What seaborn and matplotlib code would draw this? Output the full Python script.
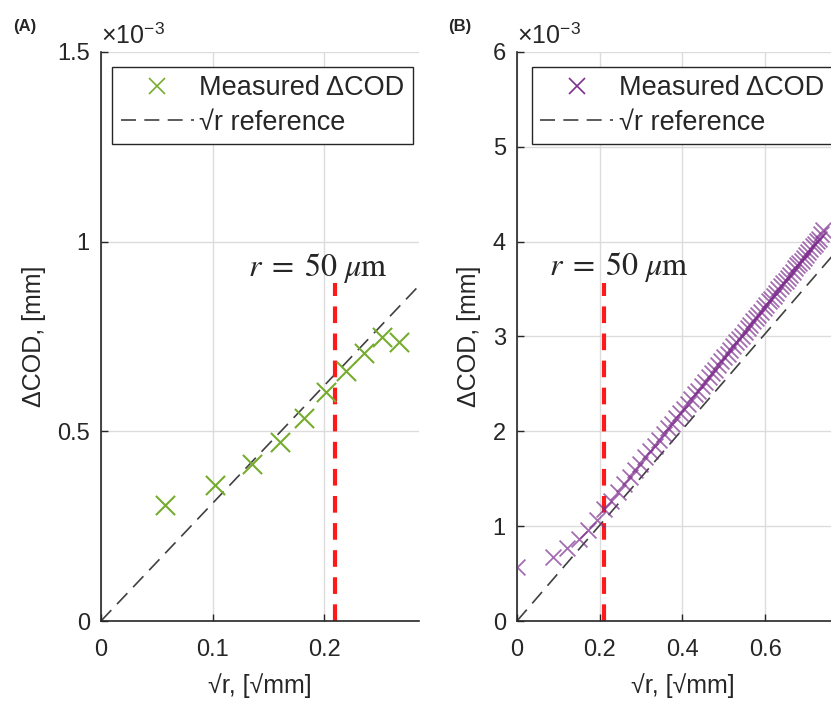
import matplotlib
matplotlib.use("Agg")
import matplotlib.pyplot as plt
from matplotlib.lines import Line2D
import seaborn as sns

# Panel A: measured COD change (x 1e-3 mm) vs sqrt(r)
a_sqrt_r = [0.057, 0.1025, 0.135, 0.160, 0.182, 0.202, 0.2196, 0.236, 0.2517, 0.2675]
a_dcod = [0.306, 0.358, 0.415, 0.473, 0.536, 0.603, 0.658, 0.706, 0.749, 0.736]
a_ref_x = [0.0, 0.285]
a_ref_y = [0.0, 0.884]
a_cut_y = [0.0, 0.89]

# Panel B
b_sqrt_r = [0.0, 0.086, 0.1217, 0.149, 0.172, 0.1924, 0.2107, 0.2276, 0.2433, 0.2581,
            0.272, 0.2853, 0.298, 0.3102, 0.3219, 0.3332, 0.3441, 0.3547, 0.365, 0.375,
            0.3847, 0.3942, 0.4035, 0.4126, 0.4214, 0.4301, 0.4386, 0.447, 0.4552, 0.4632,
            0.4712, 0.479, 0.4866, 0.4942, 0.5016, 0.5089, 0.5161, 0.5233, 0.5303, 0.5372,
            0.5441, 0.5508, 0.5575, 0.5641, 0.5706, 0.5771, 0.5834, 0.5897, 0.596, 0.6022,
            0.6083, 0.6143, 0.6203, 0.6263, 0.6321, 0.638, 0.6437, 0.6495, 0.6551, 0.6608,
            0.6663, 0.6719, 0.6773, 0.6828, 0.6882, 0.6935, 0.6989, 0.7041, 0.7094, 0.7146,
            0.7197, 0.7248, 0.7299, 0.735, 0.74]
b_dcod = [0.57, 0.67, 0.77, 0.87, 0.96, 1.07, 1.18, 1.27, 1.36, 1.44,
          1.52, 1.59, 1.66, 1.73, 1.79, 1.85, 1.91, 1.97, 2.03, 2.08,
          2.14, 2.19, 2.24, 2.29, 2.34, 2.39, 2.43, 2.48, 2.52, 2.57,
          2.61, 2.65, 2.70, 2.74, 2.78, 2.82, 2.86, 2.90, 2.94, 2.97,
          3.01, 3.05, 3.09, 3.12, 3.16, 3.19, 3.23, 3.26, 3.30, 3.33,
          3.37, 3.40, 3.43, 3.46, 3.50, 3.53, 3.56, 3.59, 3.62, 3.65,
          3.68, 3.72, 3.75, 3.78, 3.80, 3.83, 3.86, 3.89, 3.92, 3.95,
          3.98, 4.01, 4.03, 4.08, 4.12]
b_ref_x = [0.0, 0.8]
b_ref_y = [0.0, 4.04]
b_cut_y = [0.0, 3.56]

cut_x = 0.21  # sqrt(r) at r = 50 um

green = "#77AC30"
purple = "#7E2F8E"
red = "#FF1A1A"
refc = "#404040"
ref_dash = (0, (9, 5))
cut_dash = (0, (4, 2.5))

sns.set_style("white")
plt.rcParams['font.family'] = ['Liberation Sans', 'DejaVu Sans']
plt.rcParams['mathtext.fontset'] = 'stix'

fig = plt.figure(figsize=(8.31, 7.09), dpi=100)
axA = fig.add_axes([0.1215, 0.1241, 0.3827, 0.8026])
axB = fig.add_axes([0.6221, 0.1241, 0.3983, 0.8026])


def style_axis(ax, xlim, ylim, xticks, yticks, ylabels):
    ax.set_xlim(*xlim)
    ax.set_ylim(*ylim)
    ax.set_xticks(xticks)
    ax.set_yticks(yticks)
    ax.set_yticklabels(ylabels)
    ax.set_xticklabels([("%g" % t) for t in xticks])
    ax.grid(True, color="#dcdcdc", lw=1)
    ax.set_axisbelow(True)
    for s in ["top", "right"]:
        ax.spines[s].set_visible(False)
    for s in ["left", "bottom"]:
        ax.spines[s].set_color("#262626")
        ax.spines[s].set_linewidth(1.2)
    ax.tick_params(direction="in", length=5, width=1, labelsize=17,
                   colors="#262626", left=True, bottom=True)
    ax.tick_params(axis="x", pad=13)
    ax.tick_params(axis="y", pad=8)
    ax.set_xlabel("√r, [√mm]", fontsize=18, labelpad=9)
    ax.set_ylabel("ΔCOD, [mm]", fontsize=18, labelpad=8)
    ax.text(0, 1.014, "×10$^{\\mathregular{-3}}$", transform=ax.transAxes,
            fontsize=18, va="baseline", ha="left", color="#262626")


def add_legend(ax, color, x0):
    handles = [
        Line2D([], [], ls="none", marker="x", ms=12, mew=1.2, color=color),
        Line2D([], [], ls=ref_dash, lw=1.2, color=refc),
    ]
    leg = ax.legend(handles, ["Measured ΔCOD", "√r reference"], loc="upper left",
                    bbox_to_anchor=(x0, 0.974), borderaxespad=0, fontsize=19.5,
                    fancybox=False, framealpha=1, edgecolor="#262626",
                    handlelength=2.7, handletextpad=0.2, borderpad=0.32,
                    labelspacing=0.3)
    leg.get_frame().set_linewidth(1.0)


# Panel A
sns.lineplot(x=a_ref_x, y=a_ref_y, ax=axA, color=refc, lw=1.2)
axA.lines[-1].set_linestyle(ref_dash)
sns.scatterplot(x=a_sqrt_r, y=a_dcod, ax=axA, marker="x", s=190, color=green,
                linewidth=1.5, zorder=3)
sns.lineplot(x=[cut_x, cut_x], y=a_cut_y, ax=axA, color=red, lw=3, estimator=None,
             sort=False)
axA.lines[-1].set_linestyle(cut_dash)
axA.text(0.132, 0.93, r"$r\;=\;50\ \mu\mathrm{m}$", fontsize=23, va="center", ha="left")
style_axis(axA, (0, 0.285), (0, 1.5), [0, 0.1, 0.2], [0, 0.5, 1, 1.5],
           ["0", "0.5", "1", "1.5"])
add_legend(axA, green, 0.035)

# Panel B
sns.lineplot(x=b_ref_x, y=b_ref_y, ax=axB, color=refc, lw=1.2)
axB.lines[-1].set_linestyle(ref_dash)
sns.scatterplot(x=b_sqrt_r, y=b_dcod, ax=axB, marker="x", s=130, color=purple,
                linewidth=1.3, alpha=0.7, zorder=3)
sns.lineplot(x=[cut_x, cut_x], y=b_cut_y, ax=axB, color=red, lw=3, estimator=None,
             sort=False)
axB.lines[-1].set_linestyle(cut_dash)
axB.text(0.078, 3.73, r"$r\;=\;50\ \mu\mathrm{m}$", fontsize=23, va="center", ha="left")
style_axis(axB, (0, 0.8), (0, 6), [0, 0.2, 0.4, 0.6], [0, 1, 2, 3, 4, 5, 6],
           ["0", "1", "2", "3", "4", "5", "6"])
add_legend(axB, purple, 0.044)

fig.text(0.016, 0.962, "(A)", fontsize=12, fontweight="bold", va="center")
fig.text(0.539, 0.962, "(B)", fontsize=12, fontweight="bold", va="center")

fig.savefig("out.png", dpi=100)
